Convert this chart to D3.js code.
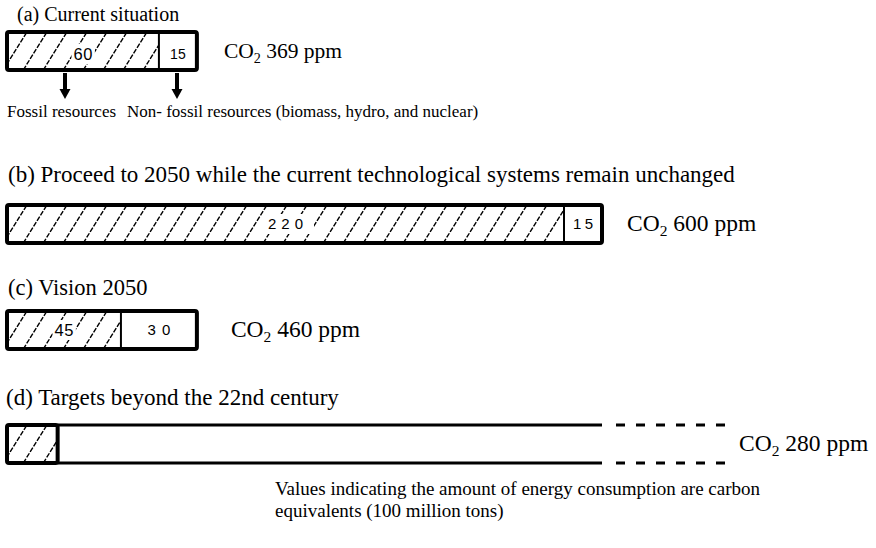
<!DOCTYPE html>
<html>
<head>
<meta charset="utf-8">
<script src="https://cdn.jsdelivr.net/npm/d3@7.9.0/dist/d3.min.js"></script>
<style>
  body { margin: 0; background: #fff; }
  svg { display: block; }
</style>
</head>
<body>
<div id="chart"></div>
<script>
// Scenario data (energy in 100 million tons of carbon equivalents)
const scenarios = [
    '(a) Current situation',
    '(b) Proceed to 2050 while the current technological systems remain unchanged',
    '(c) Vision 2050',
    '(d) Targets beyond the 22nd century'
];
const fossil = [60, 220, 45, 20];
const nonFossil = [15, 15, 30, null]; // (d) is open-ended
const co2 = [369, 600, 460, 280];
const resourceLabels = ['Fossil resources', 'Non- fossil resources (biomass, hydro, and nuclear)'];
const noteLines = [
    'Values indicating the amount of energy consumption are carbon',
    'equivalents (100 million tons)'
];

// Layout
const width = 876, height = 548;
const barTop = [32, 205, 311, 425];
const barH = 38;
const titleX = [17, 8, 8, 6];
const titleY = [21, 182, 295, 405];
const titleSize = [20, 23, 22.5, 23];
const co2Size = [21.5, 23.5, 23.5, 23.5];
const co2Gap = [27, 25, 34, 14];
const labelDy = [3, 0, 0, 0];
const hatchStep = 20;
const hatchLean = Math.tan(32 * Math.PI / 180);
const serif = '"Liberation Serif", "Times New Roman", serif';
const sans = '"Liberation Sans", Arial, sans-serif';

const x = d3.scaleLinear().domain([0, 235]).range([7, 602]);

const svg = d3.select('#chart').append('svg')
    .attr('width', width)
    .attr('height', height);
const defs = svg.append('defs');

// Titles
svg.selectAll('text.title')
    .data(scenarios)
    .join('text')
    .attr('class', 'title')
    .attr('x', (d, i) => titleX[i])
    .attr('y', (d, i) => titleY[i])
    .attr('font-family', serif)
    .attr('font-size', (d, i) => titleSize[i])
    .attr('fill', '#000')
    .text(d => d);

// Dashed diagonal hatching, clipped to the fossil segment
function hatch(g, i, x0, x1, y0) {
    const id = 'clip-' + i;
    defs.append('clipPath').attr('id', id)
        .append('rect')
        .attr('x', x0).attr('y', y0)
        .attr('width', x1 - x0).attr('height', barH);
    const lean = barH * hatchLean;
    g.append('g')
        .attr('clip-path', `url(#${id})`)
        .selectAll('line')
        .data(d3.range(x0 - lean, x1 + 1, hatchStep))
        .join('line')
        .attr('x1', d => d).attr('y1', y0 + barH)
        .attr('x2', d => d + lean).attr('y2', y0)
        .attr('stroke', '#000')
        .attr('stroke-width', 1.4)
        .attr('stroke-dasharray', '5 1.5');
}

// Number label with white backing box
function valueLabel(g, cx, cy, value, spacing, size, pad) {
    const t = g.append('text')
        .attr('x', cx + spacing / 2)
        .attr('y', cy + size * 0.36)
        .attr('text-anchor', 'middle')
        .attr('font-family', sans)
        .attr('font-size', size)
        .attr('letter-spacing', spacing + 'px')
        .text(value);
    const bb = t.node().getBBox();
    g.insert('rect', 'text')
        .attr('x', bb.x - pad)
        .attr('y', cy - 10)
        .attr('width', bb.width + pad * 2)
        .attr('height', 20)
        .attr('fill', '#fff');
}

// CO2 label
function co2Label(g, lx, cy, value, size) {
    const t = g.append('text')
        .attr('x', lx)
        .attr('y', cy + 7)
        .attr('font-family', serif)
        .attr('font-size', size);
    t.append('tspan').text('CO');
    t.append('tspan').attr('font-size', size * 0.66).attr('dy', 5).text('2');
    t.append('tspan').attr('dy', -5).text(' ' + value + ' ppm');
}

scenarios.forEach((s, i) => {
    const g = svg.append('g');
    const y0 = barTop[i];
    const cy = y0 + barH / 2;
    const x0 = x(0);
    const xf = x(fossil[i]);

    // fossil segment
    hatch(g, i, x0, xf, y0);

    if (nonFossil[i] != null) {
        const xe = x(fossil[i] + nonFossil[i]);
        const ly = cy + labelDy[i];
        valueLabel(g, (x0 + xf) / 2, ly, fossil[i], i === 1 ? 5 : 0.5, i === 1 ? 15 : 16.5, i === 1 ? 6 : 2);
        valueLabel(g, (xf + xe) / 2, ly, nonFossil[i], i === 1 ? 3.5 : (i === 2 ? 6 : 0), i === 0 ? 14 : 15, 2);
        g.append('line')
            .attr('x1', xf).attr('x2', xf)
            .attr('y1', y0).attr('y2', y0 + barH)
            .attr('stroke', '#000').attr('stroke-width', 2);
        g.append('rect')
            .attr('x', x0).attr('y', y0)
            .attr('width', xe - x0).attr('height', barH)
            .attr('rx', 2)
            .attr('fill', 'none')
            .attr('stroke', '#000').attr('stroke-width', 4);
        co2Label(g, xe + co2Gap[i], cy, co2[i], co2Size[i]);
    } else {
        // open-ended bar
        g.append('rect')
            .attr('x', x0).attr('y', y0)
            .attr('width', xf - x0).attr('height', barH)
            .attr('rx', 2)
            .attr('fill', 'none')
            .attr('stroke', '#000').attr('stroke-width', 4);
        const xEnd = x.range()[1];
        [y0, y0 + barH].forEach(yy => {
            g.append('line')
                .attr('x1', xf).attr('x2', xEnd)
                .attr('y1', yy).attr('y2', yy)
                .attr('stroke', '#000').attr('stroke-width', 3);
            g.append('line')
                .attr('x1', xEnd + 14).attr('x2', xEnd + 123)
                .attr('y1', yy).attr('y2', yy)
                .attr('stroke', '#000').attr('stroke-width', 3)
                .attr('stroke-dasharray', '9 11');
        });
        co2Label(g, xEnd + 123 + co2Gap[i], cy, co2[i], co2Size[i]);
    }
});

// Arrows under (a)
const arrowX = [65, 177];
const arrows = svg.append('g');
arrowX.forEach(ax => {
    const top = barTop[0] + barH + 3;
    arrows.append('rect')
        .attr('x', ax - 2).attr('y', top)
        .attr('width', 4).attr('height', 17)
        .attr('fill', '#000');
    arrows.append('path')
        .attr('d', `M${ax - 5.5},${top + 16}L${ax + 5.5},${top + 16}L${ax},${top + 26}Z`)
        .attr('fill', '#000');
});

svg.append('text')
    .attr('x', 7).attr('y', 117)
    .attr('font-family', serif).attr('font-size', 17)
    .text(resourceLabels[0]);
svg.append('text')
    .attr('x', 127).attr('y', 117)
    .attr('font-family', serif).attr('font-size', 17)
    .text(resourceLabels[1]);

// Note
svg.selectAll('text.note')
    .data(noteLines)
    .join('text')
    .attr('class', 'note')
    .attr('x', 275)
    .attr('y', (d, i) => 495 + i * 22)
    .attr('font-family', serif)
    .attr('font-size', 19)
    .text(d => d);
</script>
</body>
</html>
